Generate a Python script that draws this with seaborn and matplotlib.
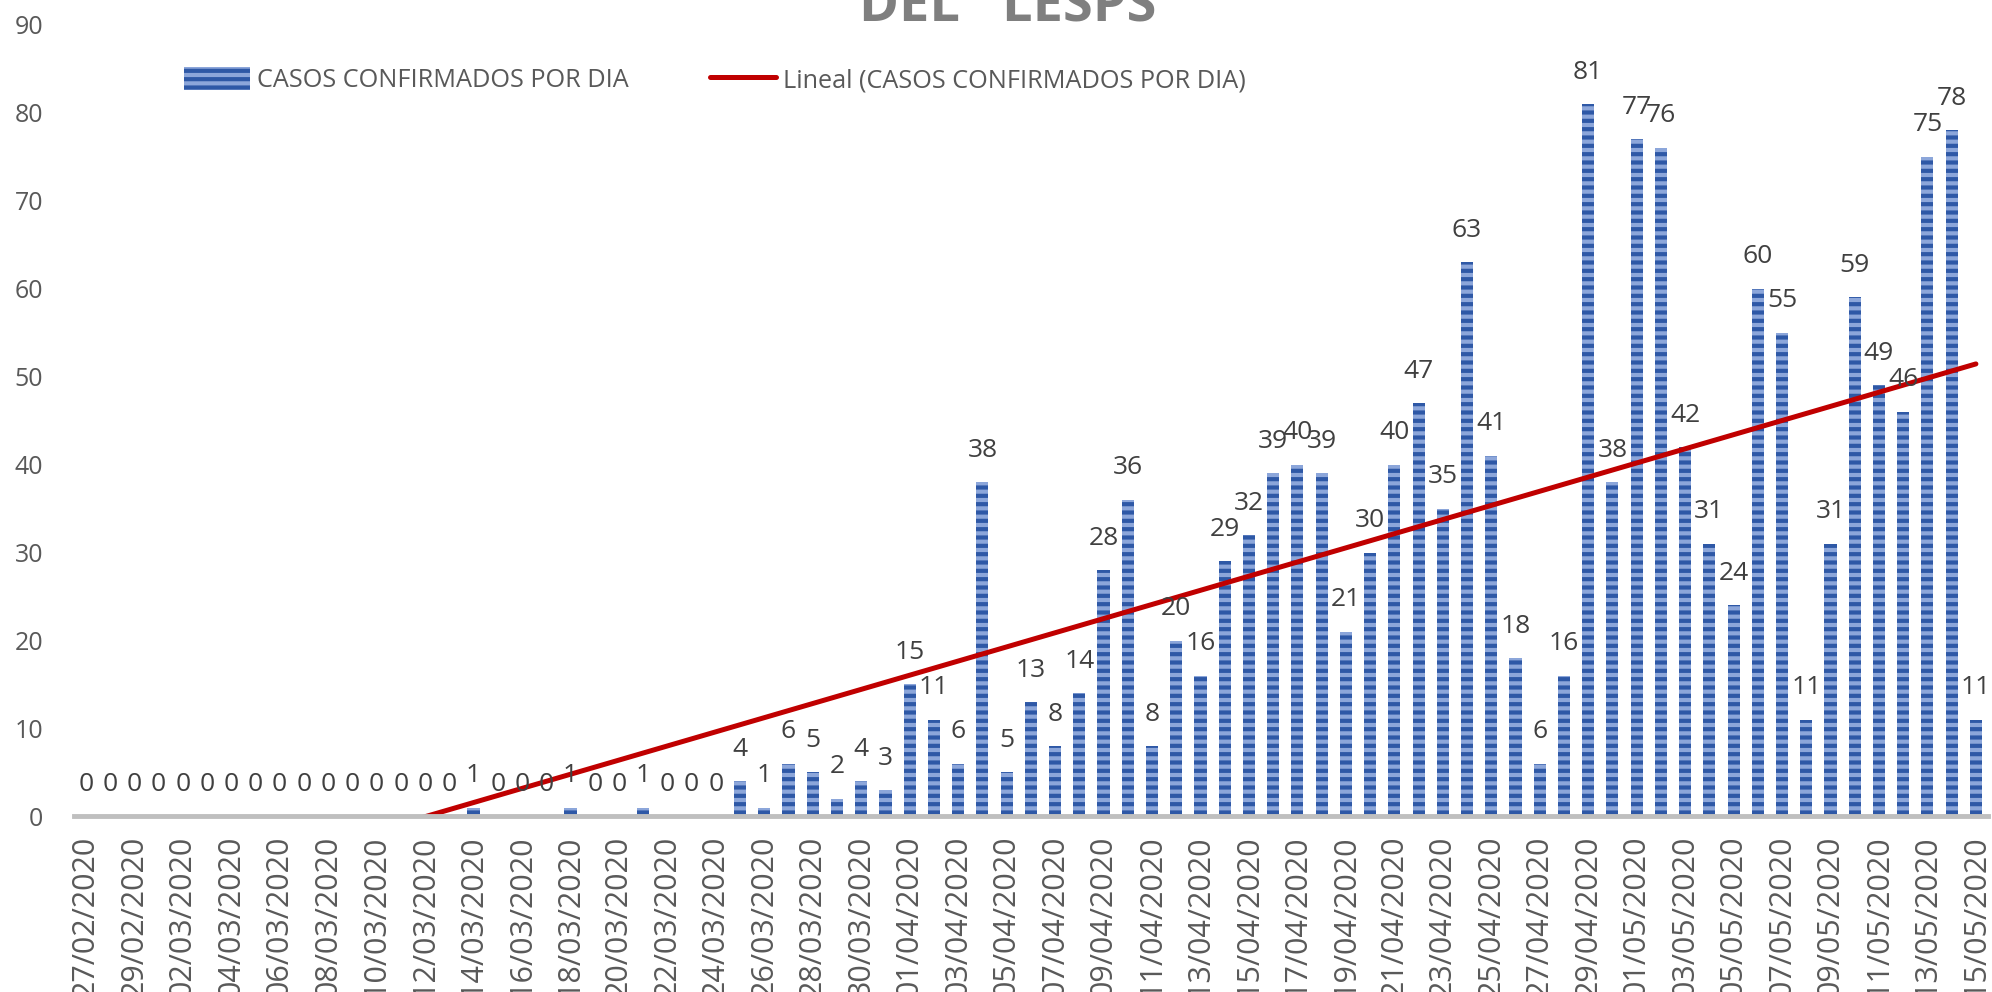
import numpy as np
import pandas as pd
import seaborn as sns
import matplotlib
matplotlib.use('Agg')
import matplotlib.pyplot as plt
from matplotlib.patches import Patch
from matplotlib.lines import Line2D

# casos confirmados por dia, 27/02/2020 - 15/05/2020
fechas = pd.date_range('2020-02-27', '2020-05-15').strftime('%d/%m/%Y')
casos = [0, 0, 0, 0, 0, 0, 0, 0, 0, 0, 0, 0, 0, 0, 0, 0,
         1, 0, 0, 0, 1, 0, 0, 1, 0, 0, 0,
         4, 1, 6, 5, 2, 4, 3,
         15, 11, 6, 38, 5, 13, 8, 14, 28, 36,
         8, 20, 16, 29, 32, 39, 40, 39, 21, 30,
         40, 47, 35, 63, 41, 18, 6, 16, 81, 38,
         77, 76, 42, 31, 24, 60, 55, 11, 31, 59, 49, 46, 75, 78, 11]
y_ticks = list(range(0, 91, 10))

df = pd.DataFrame({'fecha': fechas, 'casos': casos})

sns.set_style('white')
plt.rcParams['font.family'] = ['Open Sans', 'DejaVu Sans']
plt.rcParams['hatch.linewidth'] = 3.0

fig = plt.figure(figsize=(19.92, 9.92), dpi=100)
ax = fig.add_axes([0.037, 0.177, 0.961, 0.798])

sns.barplot(data=df, x='fecha', y='casos', ax=ax, color='#8ca6da', saturation=1,
            width=0.5, edgecolor='#2e58a6', linewidth=0, hatch='--')
sns.regplot(x=np.arange(len(casos)), y=casos, ax=ax, scatter=False, ci=None,
            truncate=True, color='#c00000', line_kws={'linewidth': 3.6})

ax.bar_label(ax.containers[0], padding=14, fontsize=19, color='#404040')

ax.set_xlim(-0.5, len(casos) - 0.5)
ax.set_ylim(0, 90)
ax.set_yticks(y_ticks)
ax.tick_params(axis='y', length=0, pad=22, labelsize=18, labelcolor='#595959')

ax.set_xticks(range(0, len(casos), 2))
ax.set_xticklabels(fechas[::2], rotation=90)
ax.set_xticks(np.arange(-0.5, len(casos) - 1, 2), minor=True)
ax.tick_params(axis='x', which='major', length=0, pad=14, labelsize=22, labelcolor='#595959')
ax.tick_params(axis='x', which='minor', length=12, width=3.5, color='#bfbfbf')
ax.set_xlabel('')
ax.set_ylabel('')

for s in ['top', 'right', 'left']:
    ax.spines[s].set_visible(False)
ax.spines['bottom'].set_color('#bfbfbf')
ax.spines['bottom'].set_linewidth(3.5)

handles = [Patch(facecolor='#8ca6da', edgecolor='#2e58a6', hatch='--', linewidth=0),
           Line2D([], [], color='#c00000', linewidth=3.6)]
labels = ['CASOS CONFIRMADOS POR DIA', 'Lineal (CASOS CONFIRMADOS POR DIA)']
leg = fig.legend(handles, labels, loc='center left', bbox_to_anchor=(0.086, 0.919),
                 ncol=2, frameon=False, fontsize=18.2, handlelength=2.6, handleheight=1.0,
                 handletextpad=0.3, columnspacing=3.2, borderpad=0)
for t in leg.get_texts():
    t.set_color('#595959')

fig.text(0.506, 1 - 22 / 992, 'DEL   LESPS', ha='center', va='baseline',
         fontsize=39, fontweight='bold', color='#7f7f7f')

fig.savefig('out.png', dpi=100)
